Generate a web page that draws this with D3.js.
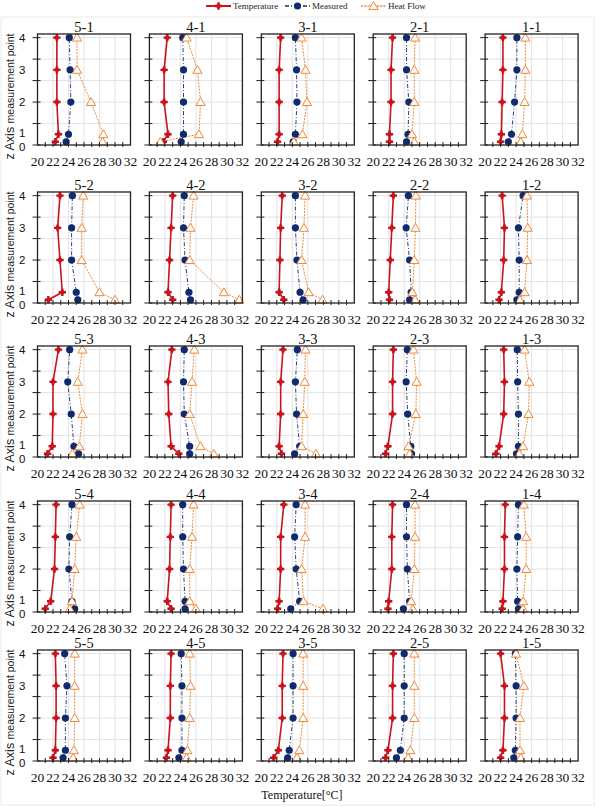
<!DOCTYPE html>
<html>
<head>
<meta charset="utf-8">
<script src="https://cdn.jsdelivr.net/npm/d3@7"></script>
<style>
  body { margin: 0; background: #fff; }
  svg { display: block; }
</style>
</head>
<body>
<svg id="chart"></svg>
<script>
// panel names, row by row
const panels = [
  "5-1", "4-1", "3-1", "2-1", "1-1",
  "5-2", "4-2", "3-2", "2-2", "1-2",
  "5-3", "4-3", "3-3", "2-3", "1-3",
  "5-4", "4-4", "3-4", "2-4", "1-4",
  "5-5", "4-5", "3-5", "2-5", "1-5",
];

// measurement point heights (point 0..4) on the z axis
const zPoints = [0.15, 0.5, 2, 3.5, 5];
const zLabels = ["0", "1", "2", "3", "4"];
const zLabelPos = [0, 0.5, 2, 3.5, 5];
const xTicks = [20, 22, 24, 26, 28, 30, 32];

// values for points 0..4 in each panel
const temperature = [
  [22.3, 22.7, 22.5, 22.5, 22.5],
  [21.8, 22.4, 21.9, 21.9, 22.3],
  [22.1, 22.3, 22.3, 22.3, 22.5],
  [22.1, 22.1, 22.3, 22.3, 22.5],
  [22.0, 22.1, 22.2, 22.3, 22.3],
  [21.4, 23.2, 22.9, 22.6, 22.9],
  [23.0, 22.4, 22.6, 22.8, 23.0],
  [22.9, 22.3, 22.4, 22.5, 22.7],
  [22.1, 22.0, 22.2, 22.4, 22.6],
  [21.8, 22.1, 22.4, 22.5, 22.2],
  [21.3, 21.9, 22.0, 22.0, 22.7],
  [23.8, 22.8, 22.5, 22.4, 22.9],
  [22.6, 22.3, 22.5, 22.5, 22.8],
  [21.6, 21.9, 22.5, 22.5, 22.6],
  [21.4, 21.8, 22.4, 22.5, 22.4],
  [21.0, 21.7, 22.2, 22.3, 22.4],
  [22.8, 22.3, 22.6, 22.7, 22.8],
  [22.1, 22.3, 22.5, 22.5, 22.9],
  [21.9, 22.0, 22.4, 22.4, 22.5],
  [22.2, 22.3, 22.5, 22.5, 22.6],
  [22.0, 22.3, 22.4, 22.4, 22.3],
  [22.2, 22.4, 22.7, 22.7, 22.8],
  [21.6, 22.2, 22.7, 22.7, 22.8],
  [21.6, 21.9, 22.5, 22.5, 22.6],
  [22.0, 22.3, 22.5, 22.5, 22.0],
];

const measured = [
  [23.7, 24.0, 24.3, 24.2, 24.1],
  [24.1, 24.4, 24.4, 24.4, 24.3],
  [24.1, 24.4, 24.6, 24.55, 24.4],
  [24.3, 24.5, 24.6, 24.3, 24.3],
  [23.0, 23.4, 23.8, 24.1, 24.1],
  [25.2, 25.0, 24.4, 24.4, 24.5],
  [25.3, 25.1, 24.6, 24.4, 24.5],
  [25.4, 25.0, 24.6, 24.4, 24.4],
  [24.7, 24.9, 24.7, 24.25, 24.55],
  [24.1, 24.4, 24.4, 24.3, 24.9],
  [25.3, 24.7, 24.35, 23.9, 24.15],
  [25.2, 25.2, 24.5, 24.4, 24.5],
  [24.3, 24.95, 24.55, 24.4, 24.65],
  [24.95, 24.85, 24.45, 24.25, 24.4],
  [24.05, 24.3, 24.3, 24.2, 24.15],
  [24.8, 24.45, 24.05, 24.15, 24.45],
  [24.6, 24.6, 24.4, 24.3, 24.3],
  [23.8, 24.95, 24.5, 24.3, 24.5],
  [23.9, 24.7, 24.4, 24.3, 24.3],
  [24.3, 24.2, 24.1, 24.2, 24.3],
  [23.3, 23.6, 23.6, 23.8, 23.5],
  [23.8, 24.2, 24.2, 24.2, 24.1],
  [23.4, 23.6, 24.1, 24.1, 24.1],
  [23.0, 23.5, 24.0, 24.0, 24.0],
  [23.7, 23.9, 24.0, 24.0, 23.9],
];

const heatFlow = [
  [28.4, 28.5, 26.9, 25.1, 25.1],
  [21.4, 26.4, 26.6, 26.2, 24.8],
  [24.2, 25.3, 25.9, 25.7, 25.2],
  [25.3, 25.0, 25.3, 25.3, 25.4],
  [24.6, 24.8, 25.1, 25.2, 25.2],
  [30.0, 28.0, 25.7, 25.7, 25.9],
  [31.6, 29.6, 25.2, 25.3, 25.7],
  [27.9, 26.1, 25.2, 25.5, 25.65],
  [25.4, 25.05, 25.3, 25.45, 25.5],
  [24.5, 25.1, 25.4, 25.5, 25.4],
  [24.5, 25.4, 25.8, 25.2, 25.8],
  [28.3, 26.6, 25.2, 25.5, 25.8],
  [27.05, 25.2, 25.4, 25.6, 25.7],
  [24.7, 24.55, 25.5, 25.6, 25.2],
  [24.4, 24.9, 25.6, 25.7, 25.1],
  [24.15, 24.45, 24.8, 25.0, 25.45],
  [26.0, 25.2, 25.2, 25.5, 25.7],
  [27.95, 25.45, 25.2, 25.65, 25.65],
  [25.1, 24.9, 25.3, 25.4, 25.4],
  [24.9, 24.9, 25.3, 25.3, 25.0],
  [24.6, 24.7, 24.8, 24.8, 24.8],
  [24.8, 24.9, 25.2, 25.3, 25.2],
  [24.6, 24.9, 25.4, 25.4, 25.4],
  [24.5, 24.8, 25.3, 25.3, 25.3],
  [24.6, 24.5, 24.5, 25.0, 24.0],
];

const seriesNames = ["Temperature", "Measured", "Heat Flow"];

const width = 604;
const height = 807;
const serif = "'Liberation Serif', 'Times New Roman', serif";
const sans = "'Liberation Sans', Arial, sans-serif";

const red = "#c8141c";
const navy = "#0f2a6e";
const orange = "#f0883a";

const series = [
  { name: seriesNames[0], values: temperature, color: red, dash: null, lw: 1.6, sym: "cross" },
  { name: seriesNames[1], values: measured, color: navy, dash: "4,2,1,2", lw: 0.9, sym: "circle" },
  { name: seriesNames[2], values: heatFlow, color: orange, dash: "2,1.2", lw: 1, sym: "triangle" },
];

const svg = d3.select("#chart").attr("width", width).attr("height", height);

// light outer frame
svg.append("rect")
  .attr("x", 1).attr("y", 17)
  .attr("width", 593).attr("height", 788)
  .attr("fill", "none")
  .attr("stroke", "#ececec");

const colLeft = (i) => 37.5 + i * 111.9;
const panelW = 93;
const rowTop = [34, 192, 346, 501, 650];
const panelH = 111;

function marker(g, s, x, y) {
  if (s.sym === "circle") {
    g.append("circle").attr("cx", x).attr("cy", y).attr("r", 3.6).attr("fill", s.color);
  } else if (s.sym === "cross") {
    // chunky plus with a round centre
    g.append("path")
      .attr("transform", `translate(${x},${y})`)
      .attr("d", d3.symbol().type(d3.symbolCross).size(30)())
      .attr("fill", s.color);
    g.append("circle").attr("cx", x).attr("cy", y).attr("r", 2.3).attr("fill", s.color);
  } else {
    g.append("path")
      .attr("transform", `translate(${x},${y + 0.8})`)
      .attr("d", d3.symbol().type(d3.symbolTriangle).size(36)())
      .attr("fill", "#fff")
      .attr("stroke", s.color)
      .attr("stroke-width", 1);
  }
}

panels.forEach((name, idx) => {
  const row = Math.floor(idx / 5);
  const col = idx % 5;
  const x0 = colLeft(col);
  const y0 = rowTop[row];

  const x = d3.scaleLinear().domain([20, 32]).range([x0, x0 + panelW]);
  const y = d3.scaleLinear().domain([0, 5.17]).range([y0 + panelH, y0]);

  const g = svg.append("g").attr("class", "panel");

  // grid
  g.selectAll(".vgrid")
    .data(xTicks.slice(1, -1))
    .join("line")
    .attr("x1", (d) => x(d)).attr("x2", (d) => x(d))
    .attr("y1", y0).attr("y2", y0 + panelH)
    .attr("stroke", "#dcdcdc").attr("stroke-width", 0.8);
  g.selectAll(".hgrid")
    .data([1, 2, 3, 4, 5])
    .join("line")
    .attr("x1", x0).attr("x2", x0 + panelW)
    .attr("y1", (d) => y(d)).attr("y2", (d) => y(d))
    .attr("stroke", "#dcdcdc").attr("stroke-width", 0.8);

  // series
  series.forEach((s) => {
    const pts = s.values[idx].map((v, i) => [x(v), y(zPoints[i])]);
    const path = g.append("path")
      .attr("d", d3.line()(pts))
      .attr("fill", "none")
      .attr("stroke", s.color)
      .attr("stroke-width", s.lw);
    if (s.dash) path.attr("stroke-dasharray", s.dash);
  });
  series.forEach((s) => {
    s.values[idx].forEach((v, i) => marker(g, s, x(v), y(zPoints[i])));
  });

  // ticks: y every unit, x every degree
  g.selectAll(".ytick")
    .data(d3.range(0, 6))
    .join("line")
    .attr("x1", x0 - 5).attr("x2", x0 + 3)
    .attr("y1", (d) => y(d)).attr("y2", (d) => y(d))
    .attr("stroke", "#222").attr("stroke-width", 1);
  g.selectAll(".xtick")
    .data(d3.range(21, 32))
    .join("line")
    .attr("x1", (d) => x(d)).attr("x2", (d) => x(d))
    .attr("y1", y0 + panelH - 3).attr("y2", y0 + panelH + 2)
    .attr("stroke", "#222").attr("stroke-width", 1);

  // frame
  g.append("rect")
    .attr("x", x0).attr("y", y0)
    .attr("width", panelW).attr("height", panelH)
    .attr("fill", "none")
    .attr("stroke", "#222").attr("stroke-width", 1.3);

  // x tick labels
  g.selectAll(".xlab")
    .data(xTicks)
    .join("text")
    .attr("x", (d) => x(d))
    .attr("y", y0 + panelH + 21)
    .attr("text-anchor", "middle")
    .attr("font-family", serif)
    .attr("font-size", 13.5)
    .attr("fill", "#111")
    .text((d) => d);

  // title
  g.append("text")
    .attr("x", x0 + panelW / 2)
    .attr("y", y0 - 2.5)
    .attr("text-anchor", "middle")
    .attr("font-family", serif)
    .attr("font-size", 14.5)
    .attr("fill", "#111")
    .text(name);

  if (col === 0) {
    g.selectAll(".ylab")
      .data(zLabels)
      .join("text")
      .attr("x", x0 - 12)
      .attr("y", (d, i) => y(zLabelPos[i]) + (i === 0 ? 5.5 : i === 1 ? 3 : 4.2))
      .attr("text-anchor", "end")
      .attr("font-family", sans)
      .attr("font-size", 11.5)
      .attr("fill", "#111")
      .text((d) => d);

    const t = g.append("text")
      .attr("transform", `translate(14,${y0 + panelH / 2 + 7}) rotate(-90)`)
      .attr("text-anchor", "middle")
      .attr("font-family", sans)
      .attr("fill", "#222");
    t.append("tspan").attr("font-size", 12.5).text("z Axis ");
    t.append("tspan").attr("font-size", 10.5).text("measurement point");
  }
});

// axis title
svg.append("text")
  .attr("x", 302).attr("y", 799)
  .attr("text-anchor", "middle")
  .attr("font-family", serif)
  .attr("font-size", 12)
  .attr("fill", "#111")
  .text("Temperature[°C]");

// legend
const legendX = [206, 285, 361];
const legend = svg.append("g").attr("class", "legend");
series.forEach((s, i) => {
  const lx = legendX[i];
  const ly = 6;
  const line = legend.append("line")
    .attr("x1", lx).attr("x2", lx + 25)
    .attr("y1", ly).attr("y2", ly)
    .attr("stroke", s.color)
    .attr("stroke-width", s.lw + 0.4);
  if (s.dash) line.attr("stroke-dasharray", s.dash);
  marker(legend, s, lx + 12.5, ly);
  legend.append("text")
    .attr("x", lx + 27)
    .attr("y", ly + 3)
    .attr("font-family", serif)
    .attr("font-size", 9)
    .attr("fill", "#222")
    .text(s.name);
});
</script>
</body>
</html>
